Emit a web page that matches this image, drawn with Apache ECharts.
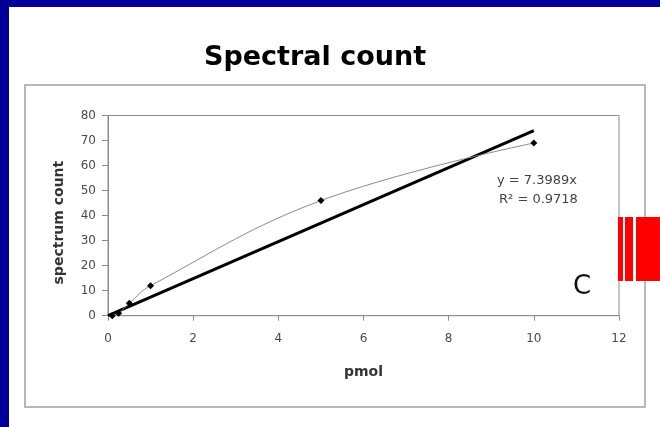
<!DOCTYPE html>
<html>
<head>
<meta charset="utf-8">
<script src="https://cdn.jsdelivr.net/npm/echarts@6/dist/echarts.min.js"></script>
<style>
  html, body { margin: 0; padding: 0; background: #ffffff; }
  #chart { width: 660px; height: 427px; }
</style>
</head>
<body>
<div id="chart"></div>
<script>
// Measured amounts (pmol) and the spectrum counts observed for each
const pmolValues = [0.1, 0.25, 0.5, 1, 5, 10];
const spectrumCounts = [0, 1, 5, 12, 46, 69];

// Linear fit through the origin
const fitSlope = 7.3989;
const fitR2 = 0.9718;
const fitRange = [0, 10];

const xTicks = [0, 2, 4, 6, 8, 10, 12];
const yTicks = [0, 10, 20, 30, 40, 50, 60, 70, 80];

const points = pmolValues.map((x, i) => [x, spectrumCounts[i]]);
const fitLine = fitRange.map(x => [x, fitSlope * x]);

const chart = echarts.init(document.getElementById('chart'), null, { renderer: 'canvas' });
const axisGray = '#8c8c8c';
const labelGray = '#4a4a4a';
const font = 'DejaVu Sans, Verdana, sans-serif';

chart.setOption({
  backgroundColor: '#ffffff',
  animation: false,
  graphic: [
    // frame bands
    { type: 'rect', shape: { x: 0, y: 0, width: 660, height: 7 }, style: { fill: '#000099' }, z: 100 },
    { type: 'rect', shape: { x: 0, y: 0, width: 9, height: 427 }, style: { fill: '#000099' }, z: 100 },
    // heading
    { type: 'text', x: 315, y: 58, style: { text: 'Spectral count', fontFamily: font, fontSize: 27, fontWeight: 'bold', fill: '#000000', align: 'center', verticalAlign: 'middle' }, z: 10 },
    // chart box
    { type: 'rect', shape: { x: 25, y: 85, width: 620, height: 322 }, style: { fill: 'none', stroke: '#b8b8b8', lineWidth: 2 }, z: -1, silent: true },
    // fit annotation
    { type: 'text', x: 497, y: 181, style: { text: 'y = ' + fitSlope.toFixed(4) + 'x', fontFamily: font, fontSize: 13, fill: '#444444', verticalAlign: 'middle' }, z: 10 },
    { type: 'text', x: 499, y: 200, style: { text: 'R\u00B2 = ' + fitR2.toFixed(4), fontFamily: font, fontSize: 13, fill: '#444444', verticalAlign: 'middle' }, z: 10 },
    // panel letter
    { type: 'text', x: 582, y: 287, style: { text: 'C', fontFamily: font, fontSize: 26, fill: '#111111', align: 'center', verticalAlign: 'middle' }, z: 10 },
    // red side marks
    { type: 'rect', shape: { x: 618, y: 217, width: 5, height: 64 }, style: { fill: '#ff0000' }, z: 100 },
    { type: 'rect', shape: { x: 625, y: 217, width: 8, height: 64 }, style: { fill: '#ff0000' }, z: 100 },
    { type: 'rect', shape: { x: 636, y: 217, width: 24, height: 64 }, style: { fill: '#ff0000' }, z: 100 }
  ],
  grid: {
    left: 108, right: 41, top: 115.5, bottom: 111.3,
    show: true, borderColor: axisGray, borderWidth: 1, backgroundColor: '#ffffff'
  },
  xAxis: {
    type: 'value',
    min: xTicks[0], max: xTicks[xTicks.length - 1], interval: 2,
    name: 'pmol',
    nameLocation: 'middle',
    nameGap: 50,
    nameTextStyle: { fontFamily: font, fontSize: 14, fontWeight: 'bold', color: '#333333' },
    axisLine: { lineStyle: { color: axisGray, width: 1 } },
    axisTick: { show: true, length: 5, lineStyle: { color: axisGray } },
    axisLabel: { margin: 17, fontFamily: font, fontSize: 12, color: labelGray },
    splitLine: { show: false }
  },
  yAxis: {
    type: 'value',
    min: yTicks[0], max: yTicks[yTicks.length - 1], interval: 10,
    name: 'spectrum count',
    nameLocation: 'middle',
    nameRotate: 90,
    nameGap: 42,
    nameTextStyle: { fontFamily: font, fontSize: 14, fontWeight: 'bold', color: '#333333', padding: [0, 14, 0, 0] },
    axisLine: { show: true, lineStyle: { color: axisGray, width: 1 } },
    axisTick: { show: true, length: 6, lineStyle: { color: axisGray } },
    axisLabel: { margin: 12, fontFamily: font, fontSize: 12, color: labelGray },
    splitLine: { show: false }
  },
  series: [
    {
      name: 'trend',
      type: 'line',
      data: fitLine,
      showSymbol: false,
      symbol: 'none',
      lineStyle: { color: '#000000', width: 3 },
      z: 3
    },
    {
      name: 'spectrum count',
      type: 'line',
      data: points,
      smooth: 0.4,
      symbol: 'diamond',
      symbolSize: 7,
      itemStyle: { color: '#000000' },
      lineStyle: { color: '#8a8a8a', width: 1 },
      z: 4
    }
  ]
});
</script>
</body>
</html>
